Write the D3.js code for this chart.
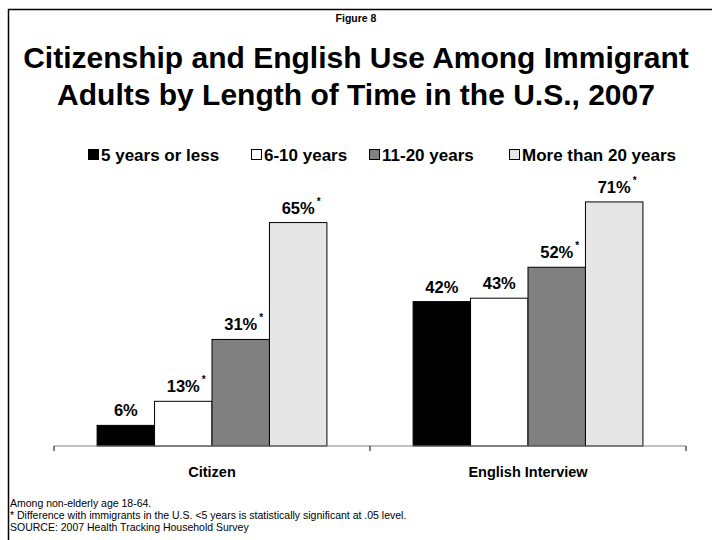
<!DOCTYPE html>
<html>
<head>
<meta charset="utf-8">
<script src="https://cdn.jsdelivr.net/npm/d3@7"></script>
<style>
  html, body { margin: 0; padding: 0; background: #fff; }
  svg { display: block; font-family: "Liberation Sans", Arial, sans-serif; }
</style>
</head>
<body>
<svg id="chart" width="712" height="540"></svg>
<script>
const categories = ["Citizen", "English Interview"];
const seriesNames = ["5 years or less", "6-10 years", "11-20 years", "More than 20 years"];
const seriesColors = ["#000000", "#ffffff", "#808080", "#e6e6e6"];
const citizenValues = [6, 13, 31, 65];
const englishValues = [42, 43, 52, 71];
const citizenStars = [false, true, true, true];
const englishStars = [false, false, true, true];
const valuesByCategory = [citizenValues, englishValues];
const starsByCategory = [citizenStars, englishStars];
const notes = [
  "Among non-elderly age 18-64.",
  "* Difference with immigrants in the U.S. <5 years is statistically significant at .05 level.",
  "SOURCE: 2007 Health Tracking Household Survey"
];

const svg = d3.select("#chart");

// frame (left and top lines)
svg.append("path").attr("d", "M8.5,540 L8.5,9.5 L712,9.5")
  .attr("fill", "none").attr("stroke", "#000").attr("stroke-width", 1.5);

// titles
svg.append("text").attr("x", 356).attr("y", 22).attr("text-anchor", "middle")
  .attr("font-size", 10.5).attr("font-weight", "bold").text("Figure 8");
svg.append("text").attr("x", 356).attr("y", 68).attr("text-anchor", "middle")
  .attr("font-size", 30).attr("font-weight", "bold")
  .text("Citizenship and English Use Among Immigrant");
svg.append("text").attr("x", 356).attr("y", 105).attr("text-anchor", "middle")
  .attr("font-size", 30).attr("font-weight", "bold")
  .text("Adults by Length of Time in the U.S., 2007");

// scales
const baseline = 446;
const y = d3.scaleLinear().domain([0, 80]).range([baseline, baseline - 275]);
const x0 = d3.scaleBand().domain(categories).range([54, 686]).paddingInner(0).paddingOuter(0);
const x1 = d3.scaleBand().domain(seriesNames).range([0, x0.bandwidth()]).paddingInner(0).paddingOuter(0.75);
const color = d3.scaleOrdinal().domain(seriesNames).range(seriesColors);

// legend
const legendX = [88, 251, 369, 509];
const legend = svg.append("g");
seriesNames.forEach((s, i) => {
  legend.append("rect").attr("x", legendX[i] + 0.5).attr("y", 149.5).attr("width", 10).attr("height", 10)
    .attr("fill", color(s)).attr("stroke", "#000").attr("stroke-width", 1);
  legend.append("text").attr("x", legendX[i] + 13).attr("y", 161)
    .attr("font-size", 17).attr("font-weight", "bold").text(s);
});

// bars
categories.forEach((c, ci) => {
  const g = svg.append("g").attr("transform", `translate(${x0(c)},0)`);
  const vals = valuesByCategory[ci];
  const stars = starsByCategory[ci];
  seriesNames.forEach((s, si) => {
    const v = vals[si];
    g.append("rect")
      .attr("x", x1(s)).attr("y", y(v))
      .attr("width", x1.bandwidth()).attr("height", baseline - y(v))
      .attr("fill", color(s)).attr("stroke", "#000").attr("stroke-width", 1);
    const cx = x1(s) + x1.bandwidth() / 2;
    const t = g.append("text").attr("x", cx).attr("y", y(v) - 9)
      .attr("text-anchor", "middle").attr("font-size", 16.5).attr("font-weight", "bold")
      .text(v + "%");
    if (stars[si]) {
      const w = t.node().getComputedTextLength();
      g.append("text").attr("x", cx + w / 2 + 2).attr("y", y(v) - 18)
        .attr("font-size", 10).attr("font-weight", "bold").text("*");
    }
  });
});

// axis
const axis = svg.append("g").attr("transform", `translate(0,${baseline})`);
axis.append("line").attr("x1", 54).attr("x2", 686).attr("stroke", "#808080").attr("stroke-width", 1);
[54, x0("English Interview"), 686].forEach(tx => {
  axis.append("line").attr("x1", tx).attr("x2", tx).attr("y1", 0).attr("y2", 5)
    .attr("stroke", "#000").attr("stroke-width", 1);
});
categories.forEach(c => {
  axis.append("text").attr("x", x0(c) + x0.bandwidth() / 2).attr("y", 31)
    .attr("text-anchor", "middle").attr("font-size", 14.5).attr("font-weight", "bold").text(c);
});

// notes
notes.forEach((n, i) => {
  svg.append("text").attr("x", 10).attr("y", 507 + i * 12)
    .attr("font-size", 10.5).text(n);
});
</script>
</body>
</html>
